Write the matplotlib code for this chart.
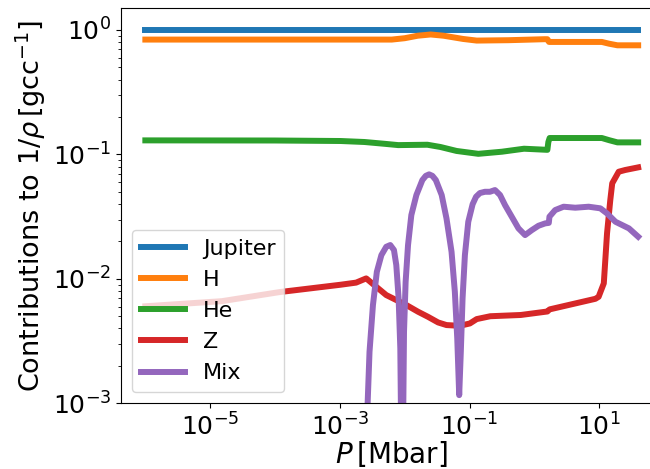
import numpy as np
import matplotlib
matplotlib.use("Agg")
import matplotlib.pyplot as plt
from matplotlib.ticker import NullLocator

# log10(P / Mbar) and log10(contribution)
jup_logP = [-6.0, 1.60]
jup_logy = [0.0, 0.0]

h_logP = [-6.0, -2.20, -2.00, -1.80, -1.60, -1.40, -1.10, -0.89, -0.40, 0.155, 0.20, 0.225, 1.04, 1.15, 1.28, 1.60]
h_logy = [-0.077, -0.077, -0.066, -0.046, -0.036, -0.046, -0.072, -0.085, -0.082, -0.074, -0.074, -0.096, -0.096, -0.110, -0.123, -0.123]

he_logP = [-6.0, -4.0, -2.99, -2.62, -2.30, -2.10, -1.65, -1.45, -1.20, -0.865, -0.50, -0.16, 0.20, 0.215, 0.235, 1.04, 1.15, 1.28, 1.60]
he_logy = [-0.887, -0.888, -0.892, -0.900, -0.915, -0.925, -0.922, -0.940, -0.972, -0.995, -0.978, -0.954, -0.963, -0.900, -0.868, -0.868, -0.885, -0.903, -0.903]

z_logP = [-6.0, -4.82, -3.93, -2.99, -2.75, -2.594, -2.44, -2.285, -2.13, -1.975, -1.794, -1.64, -1.485, -1.356, -1.15, -0.995, -0.89,
          -0.68, -0.21, 0.20, 0.235, 0.94, 0.99, 1.07, 1.12, 1.17, 1.20, 1.30, 1.40, 1.60]
z_logy = [-2.22, -2.179, -2.106, -2.047, -2.03, -1.996, -2.063, -2.13, -2.17, -2.21, -2.264, -2.305, -2.35, -2.371, -2.377, -2.358, -2.323,
          -2.30, -2.29, -2.262, -2.245, -2.16, -2.144, -2.036, -1.634, -1.367, -1.232, -1.139, -1.125, -1.104]

mix_logP = [-2.75, -2.60, -2.543, -2.49, -2.43, -2.36, -2.285, -2.223, -2.166, -2.13, -2.094, -2.068, -2.04,
            -2.011, -1.986, -1.949, -1.898, -1.82, -1.728, -1.675, -1.624, -1.573, -1.52, -1.43, -1.356, -1.278, -1.227, -1.19, -1.16,
            -1.135, -1.108, -1.072, -1.02, -0.953, -0.90, -0.84, -0.763, -0.686, -0.608, -0.53, -0.453, -0.35, -0.246,
            -0.144, -0.04, 0.063, 0.166, 0.222, 0.232, 0.32, 0.45, 0.63, 0.837, 1.017, 1.12, 1.25, 1.457, 1.60]
mix_logy = [np.nan, -3.40, -2.586, -2.21, -1.943, -1.809, -1.742, -1.728, -1.768, -1.889, -2.157, -2.559, -4.0,
            -2.425, -2.023, -1.728, -1.487, -1.326, -1.206, -1.172, -1.16, -1.172, -1.206, -1.326, -1.514, -1.782, -2.104, -2.478, -2.934,
            -2.586, -2.157, -1.809, -1.541, -1.40, -1.34, -1.31, -1.30, -1.30, -1.286, -1.326, -1.407, -1.50, -1.594,
            -1.648, -1.608, -1.573, -1.554, -1.550, -1.50, -1.447, -1.42, -1.428, -1.42, -1.433, -1.474, -1.541, -1.594, -1.661]

series = [
    ("Jupiter", jup_logP, jup_logy, "#1f77b4"),
    ("H", h_logP, h_logy, "#ff7f0e"),
    ("He", he_logP, he_logy, "#2ca02c"),
    ("Z", z_logP, z_logy, "#d62728"),
    ("Mix", mix_logP, mix_logy, "#9467bd"),
]

fig = plt.figure(figsize=(6.5, 4.69), dpi=100)
ax = fig.add_axes([0.1857, 0.140, 0.834, 0.842])

for name, lp, ly, c in series:
    ax.plot(10 ** np.array(lp, dtype=float), 10 ** np.array(ly, dtype=float), color=c, lw=4.3, label=name)

ax.set_xscale("log")
ax.set_yscale("log")
ax.set_ylim(1e-3, 1.49)
ax.set_xticks([1e-5, 1e-3, 1e-1, 1e1])
ax.xaxis.set_minor_locator(NullLocator())
ax.tick_params(labelsize=18)
ax.set_xlabel(r"$P\,[\mathrm{Mbar}]$", fontsize=20, labelpad=-1)
ax.set_ylabel(r"Contributions to $1/\rho\,[\mathrm{gcc}^{-1}]$", fontsize=19.5, labelpad=3)
ax.legend(loc="lower left", fontsize=16, handlelength=2.0)

fig.savefig("out.png", dpi=100)
